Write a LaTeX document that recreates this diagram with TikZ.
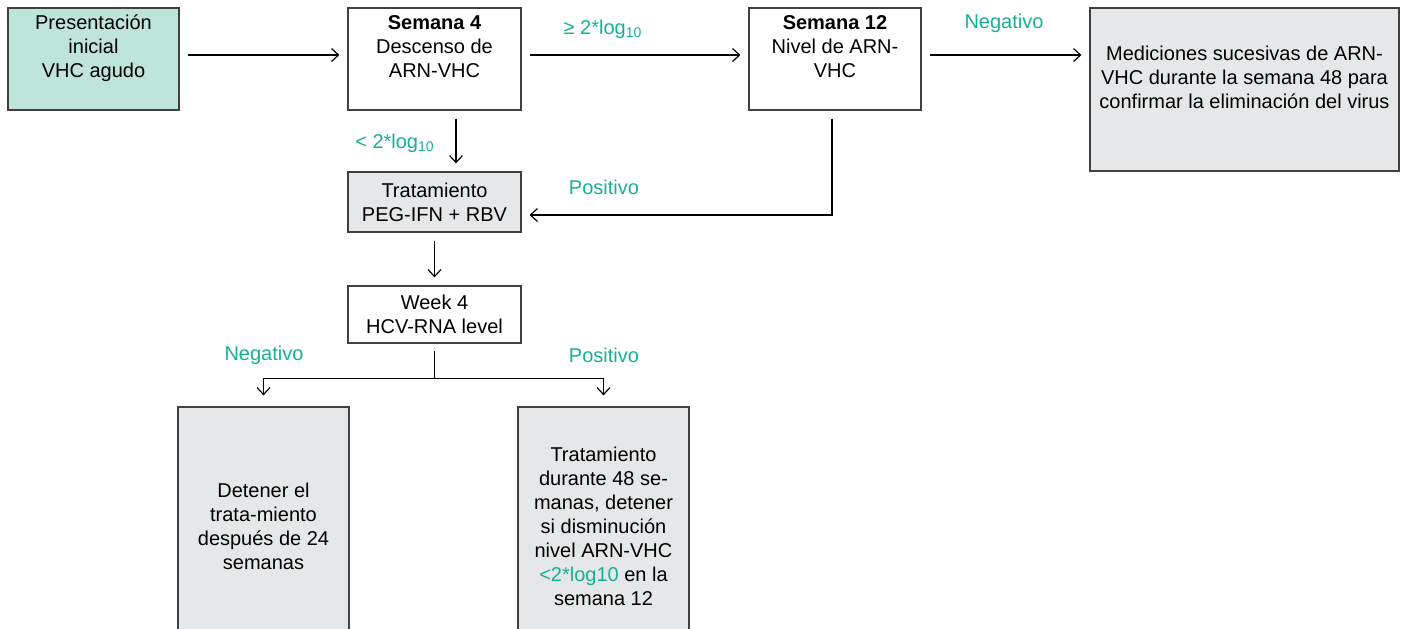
\documentclass[tikz,border=0pt]{standalone}
\usepackage{fontspec}
\setmainfont{Liberation Sans}
\usetikzlibrary{arrows.meta}
\definecolor{verde}{RGB}{24,176,148}
\definecolor{turquesa}{RGB}{191,228,218}
\definecolor{gris}{RGB}{230,231,232}
\begin{document}
\begin{tikzpicture}[>={Straight Barb[length=3.5pt,width=6.5pt]}, x=.5pt, y=-.5pt,
  font=\fontsize{10}{12}\selectfont,
  caja/.style={draw=black!75, line width=.6pt, align=center, inner sep=0pt},
  flecha/.style={->, line width=.6pt, shorten <=4pt, shorten >=4pt},
  etiqueta/.style={text=verde, inner sep=0pt}]
\useasboundingbox (0,0) rectangle (1410,628);
\node[caja, fill=turquesa, minimum width=85.5pt, minimum height=51pt] (inicio) at (93.5,59) {Presentación\\inicial\\VHC agudo\\[-3pt]\strut};
\node[caja, fill=white, minimum width=86.5pt, minimum height=51pt] (sem4) at (434.5,59) {\textbf{Semana 4}\\Descenso de\\ARN-VHC\\[-3pt]\strut};
\node[caja, fill=white, minimum width=86pt, minimum height=51pt] (sem12) at (835,59) {\textbf{Semana 12}\\Nivel de ARN-\\VHC\\[-3pt]\strut};
\node[caja, fill=gris, minimum width=154.5pt, minimum height=81.5pt] (medic) at (1244.5,89.5) {Mediciones sucesivas de ARN-\\VHC durante la semana 48 para\\confirmar la eliminación del virus\\[-3pt]\strut};
\node[caja, fill=gris, minimum width=86.5pt, minimum height=30pt] (trat) at (434.5,202) {Tratamiento\\PEG-IFN + RBV};
\node[caja, fill=white, minimum width=86.5pt, minimum height=28.5pt] (week) at (434.5,314.5) {Week 4\\HCV-RNA level};
\node[caja, fill=gris, minimum width=85.5pt, minimum height=119pt] (detener) at (263.5,526) {Detener el\\trata-miento\\después de 24\\semanas};
\node[caja, fill=gris, minimum width=85.5pt, minimum height=119pt] (trat48) at (603.5,526) {Tratamiento\\durante 48 se-\\manas, detener\\si disminución\\nivel ARN-VHC\\\textcolor{verde}{<2*log10} en la\\semana 12};
\node[etiqueta] (mayor) at (603,29) {≥ 2*log\textsubscript{10}};
\node[etiqueta] (menor) at (395,143) {< 2*log\textsubscript{10}};
\node[etiqueta] (neg1) at (1004,23) {Negativo};
\node[etiqueta] (pos1) at (604,187) {Positivo};
\node[etiqueta] (neg2) at (264,355) {Negativo};
\node[etiqueta] (pos2) at (604,355) {Positivo};
\draw[flecha] ([yshift=2pt]inicio.east) -- ([yshift=2pt]sem4.west);
\draw[flecha] ([yshift=2pt]sem4.east) -- ([yshift=2pt]sem12.west);
\draw[flecha] ([yshift=2pt]sem12.east) -- ([yshift=2pt]sem12.east -| medic.west);
\draw[flecha] ([xshift=10.75pt]sem4.south) -- ([xshift=10.75pt]sem4.south |- trat.north);
\draw[flecha] ([xshift=-1.5pt]sem12.south) |- ([yshift=-6.5pt]trat.east);
\draw[flecha] (trat.south) -- (week.north);
\coordinate (rama) at ([yshift=-17.5pt]week.south);
\draw[line width=.6pt, shorten <=3.5pt] (week.south) -- (rama);
\draw[flecha, shorten <=0pt, shorten >=5.5pt] (rama) -| (detener.north);
\draw[flecha, shorten <=0pt, shorten >=5.5pt] (rama) -| (trat48.north);
\end{tikzpicture}
\end{document}
